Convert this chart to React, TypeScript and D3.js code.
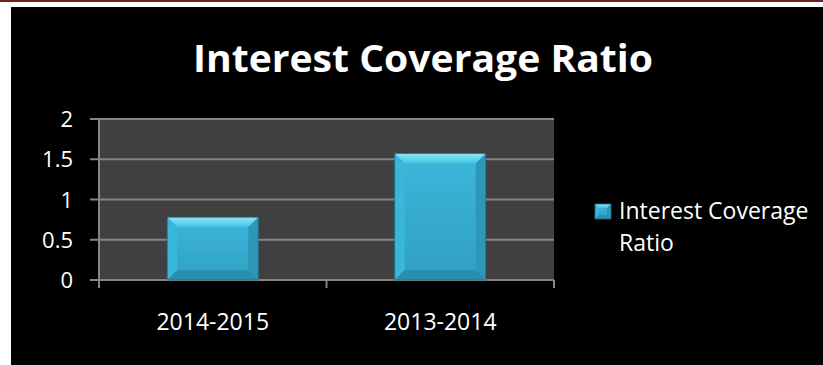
import React, { useEffect } from "react";
import * as d3 from "d3";

const categories = ["2014-2015", "2013-2014"];
const values = [0.78, 1.57];
const yTicks = [0, 0.5, 1, 1.5, 2];
const yTickLabels = ["0", "0.5", "1", "1.5", "2"];
const seriesName = "Interest Coverage Ratio";
const legendLines = ["Interest Coverage", "Ratio"];
const title = "Interest Coverage Ratio";

const W = 823;
const H = 365;
const plot = { left: 99, right: 554, top: 119, bottom: 280 };
const FONT = "'Open Sans', 'Liberation Sans', sans-serif";

function BevelBar({ x, y, w, h, b }: { x: number; y: number; w: number; h: number; b: number }) {
  const bb = Math.min(b, w / 2, h / 2);
  const x1 = x + w, y1 = y + h;
  const pts = (a: number[][]) => a.map((p) => p.join(",")).join(" ");
  return (
    <g>
      <rect x={x} y={y} width={w} height={h} fill="url(#faceGrad)" />
      <polygon points={pts([[x, y], [x1, y], [x1 - bb, y + bb], [x + bb, y + bb]])} fill="url(#topGrad)" />
      <polygon points={pts([[x, y], [x + bb, y + bb], [x + bb, y1 - bb], [x, y1]])} fill="#3ab6da" />
      <polygon points={pts([[x1, y], [x1, y1], [x1 - bb, y1 - bb], [x1 - bb, y + bb]])} fill="#2c97b7" />
      <polygon points={pts([[x, y1], [x + bb, y1 - bb], [x1 - bb, y1 - bb], [x1, y1]])} fill="#2a8eae" />
      <rect x={x} y={y} width={w} height={h} fill="none" stroke="#1f6f88" strokeWidth={0.8} />
    </g>
  );
}

export default function App() {
  useEffect(() => {
    document.body.style.margin = "0";
    document.body.style.overflow = "hidden";
    document.documentElement.style.overflow = "hidden";
  }, []);
  const xScale = d3.scaleBand<string>().domain(categories).range([plot.left, plot.right]).paddingInner(0).paddingOuter(0);
  const yScale = d3.scaleLinear().domain([0, 2]).range([plot.bottom, plot.top]);
  const barW = xScale.bandwidth() * 0.4;
  const grid = "#858585";

  return (
    <div style={{ position: "fixed", left: 0, top: 0, width: W, height: H, background: "#000" }}>
      <svg width={W} height={H} style={{ display: "block" }}>
        <defs>
          <linearGradient id="faceGrad" x1="0" y1="0" x2="0" y2="1">
            <stop offset="0" stopColor="#3bb7db" />
            <stop offset="1" stopColor="#309fc2" />
          </linearGradient>
          <linearGradient id="topGrad" x1="0" y1="0" x2="0" y2="1">
            <stop offset="0" stopColor="#8ae6f8" />
            <stop offset="1" stopColor="#45c3e3" />
          </linearGradient>
        </defs>
        <rect x={0} y={0} width={W} height={H} fill="#ffffff" />
        <rect x={0} y={0} width={W} height={2} fill="#6e2222" />
        <rect x={11} y={7} width={W - 11} height={H - 7} fill="#000000" />

        <text x={423} y={72} textAnchor="middle" fill="#ffffff" fontFamily={FONT} fontWeight={700} fontSize={38}
          textLength={460} lengthAdjust="spacingAndGlyphs">{title}</text>

        <rect x={plot.left} y={plot.top} width={plot.right - plot.left} height={plot.bottom - plot.top} fill="#404040" />

        {yTicks.map((t) => (
          <line key={"g" + t} x1={plot.left - 9} x2={plot.right} y1={yScale(t)} y2={yScale(t)} stroke={grid} strokeWidth={2} />
        ))}
        <line x1={plot.left} x2={plot.left} y1={plot.top - 1} y2={plot.bottom + 8} stroke={grid} strokeWidth={2} />
        {[plot.left, ...categories.map((c) => (xScale(c) as number) + xScale.bandwidth())].map((x, i) => (
          <line key={"xt" + i} x1={x} x2={x} y1={plot.bottom} y2={plot.bottom + 8} stroke={grid} strokeWidth={2} />
        ))}

        {categories.map((c, i) => {
          const cx = (xScale(c) as number) + xScale.bandwidth() / 2;
          const y = yScale(values[i]);
          return <BevelBar key={c} x={cx - barW / 2} y={y} w={barW} h={plot.bottom - y} b={10} />;
        })}

        {yTicks.map((t, i) => (
          <text key={"yl" + t} x={73} y={yScale(t) + 8} textAnchor="end" fill="#ffffff" fontFamily={FONT} fontSize={22}>
            {yTickLabels[i]}
          </text>
        ))}
        {categories.map((c) => (
          <text key={"xl" + c} x={(xScale(c) as number) + xScale.bandwidth() / 2} y={330} textAnchor="middle" fill="#ffffff"
            fontFamily={FONT} fontSize={23}>
            {c}
          </text>
        ))}

        <g aria-label={seriesName}>
          <BevelBar x={595} y={204} w={16} h={15} b={4} />
          {legendLines.map((l, i) => (
            <text key={l} x={619} y={219 + i * 32} fill="#ffffff" fontFamily={FONT} fontSize={23}>
              {l}
            </text>
          ))}
        </g>
      </svg>
    </div>
  );
}
